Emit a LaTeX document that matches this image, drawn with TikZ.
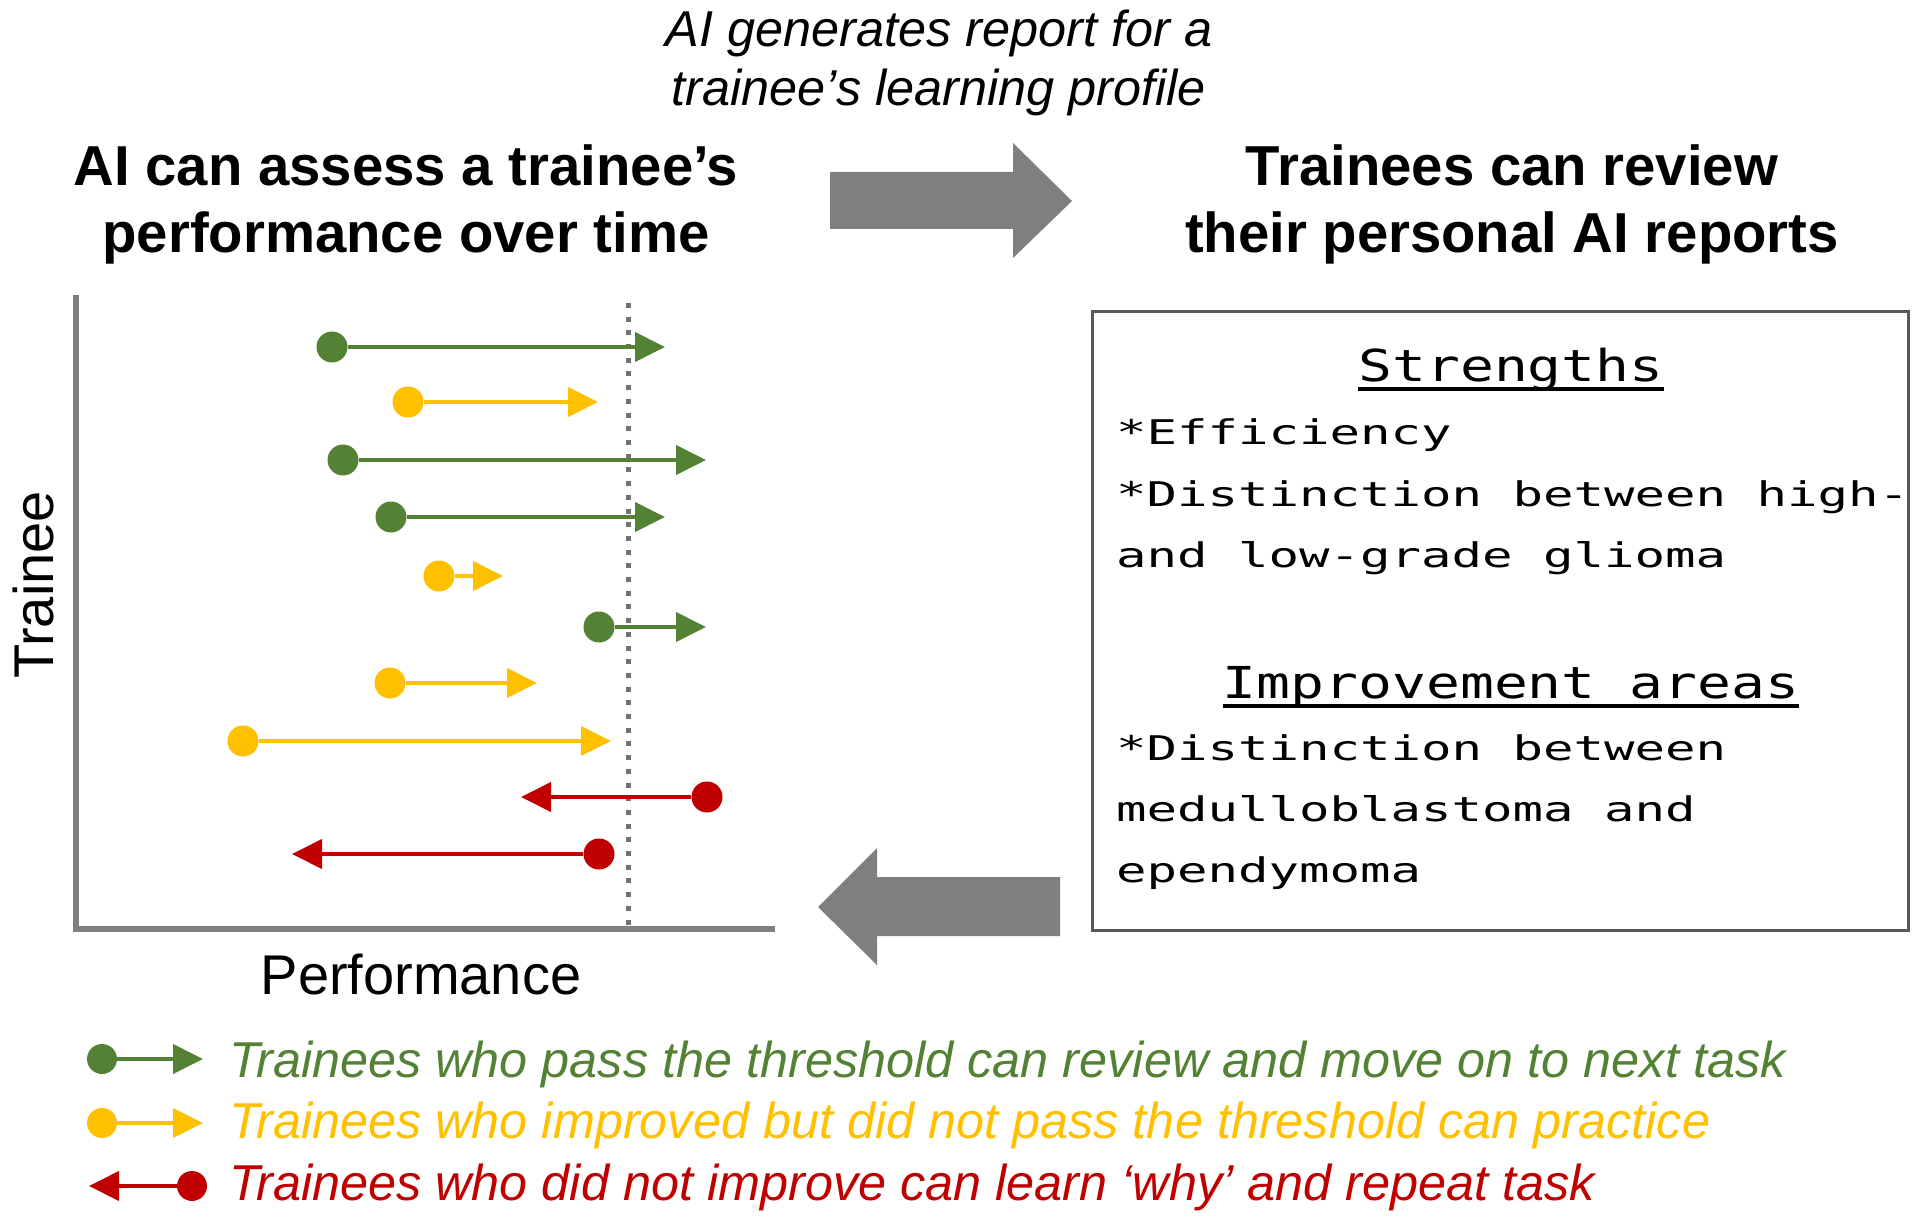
\documentclass[tikz,border=0pt]{standalone}
\usepackage{fontspec}
\setmainfont{Liberation Sans}
\newfontfamily\boxbody{DejaVu Sans Mono}[FakeStretch=1.49]
\newfontfamily\boxhead{DejaVu Sans Mono}[FakeStretch=1.28]
\usetikzlibrary{arrows.meta}
\definecolor{ggreen}{HTML}{548235}
\definecolor{gyellow}{HTML}{FFC000}
\definecolor{gred}{HTML}{C00000}
\definecolor{bgray}{HTML}{7F7F7F}
\definecolor{boxgray}{HTML}{595959}
\begin{document}
\begin{tikzpicture}[x=1pt,y=-1pt,
  every node/.style={inner sep=0pt},
  dotnode/.style={circle, fill=#1, inner sep=0pt, minimum size=31pt},
  trend/.style={draw=#1, line width=4pt, -{Triangle[length=30pt,width=29pt]}},
  titlefont/.style={font=\bfseries\fontsize{56.3}{67}\selectfont},
  capfont/.style={font=\itshape\fontsize{50.4}{60}\selectfont},
  axisfont/.style={font=\fontsize{56}{66}\selectfont},
  legfont/.style={font=\itshape\fontsize{50.4}{60}\selectfont},
  bodyline/.style={anchor=base west, font=\boxbody\fontsize{34}{61}\selectfont},
  headline/.style={anchor=base, font=\boxhead\fontsize{44}{61}\selectfont},
  bigarrow/.style={fill=bgray, draw=none}]
\useasboundingbox (0,0) rectangle (1920,1222);
\fill[white] (0,0) rectangle (1920,1222);

% caption over the arrow
\node[capfont, anchor=base] (cap1) at (939,47) {AI generates report for a};
\node[capfont, anchor=base] (cap2) at (939,106) {trainee’s learning profile};

% titles
\node[titlefont, anchor=base] (lt1) at (406,186) {AI can assess a trainee’s};
\node[titlefont, anchor=base] (lt2) at (406,253) {performance over time};
\node[titlefont, anchor=base] (rt1) at (1512,186) {Trainees can review};
\node[titlefont, anchor=base] (rt2) at (1512,253) {their personal AI reports};

% big arrows
\path[bigarrow] (830,172) -- (1013,172) -- (1013,143) -- (1072,201) -- (1013,258) -- (1013,229) -- (830,229) -- cycle;
\path[bigarrow] (1060,877) -- (877,877) -- (877,848) -- (818,907) -- (877,965) -- (877,936) -- (1060,936) -- cycle;

% axes
\draw[bgray, line width=5.5pt, line join=miter] (76,295) -- (76,929) -- (775,929);
\node[axisfont, rotate=90, anchor=base] (ylab) at (53,585) {Trainee};
\node[axisfont, anchor=base] (xlab) at (421,994) {Performance};

% threshold
\draw[bgray!90!black, line width=5pt, dash pattern=on 5pt off 8.7pt] (628,303) -- (628,925);

% trainee arrows
\node[dotnode=ggreen]  (c1)  at (332,347) {};  \coordinate (t1)  at (665,347);
\node[dotnode=gyellow] (c2)  at (408,402) {};  \coordinate (t2)  at (598,402);
\node[dotnode=ggreen]  (c3)  at (343,460) {};  \coordinate (t3)  at (706,460);
\node[dotnode=ggreen]  (c4)  at (391,517) {};  \coordinate (t4)  at (665,517);
\node[dotnode=gyellow] (c5)  at (439,576) {};  \coordinate (t5)  at (503,576);
\node[dotnode=ggreen]  (c6)  at (599,627) {};  \coordinate (t6)  at (706,627);
\node[dotnode=gyellow] (c7)  at (390,683) {};  \coordinate (t7)  at (537,683);
\node[dotnode=gyellow] (c8)  at (243,741) {};  \coordinate (t8)  at (611,741);
\node[dotnode=gred]    (c9)  at (707,797) {};  \coordinate (t9)  at (521,797);
\node[dotnode=gred]    (c10) at (599,854) {};  \coordinate (t10) at (292,854);
\draw[trend=ggreen]  (c1) -- (t1);
\draw[trend=gyellow] (c2) -- (t2);
\draw[trend=ggreen]  (c3) -- (t3);
\draw[trend=ggreen]  (c4) -- (t4);
\draw[trend=gyellow] (c5) -- (t5);
\draw[trend=ggreen]  (c6) -- (t6);
\draw[trend=gyellow] (c7) -- (t7);
\draw[trend=gyellow] (c8) -- (t8);
\draw[trend=gred]    (c9) -- (t9);
\draw[trend=gred]    (c10) -- (t10);

% report box
\node[draw=boxgray, line width=3pt, minimum width=816pt, minimum height=618pt] (report) at (1500,621) {};
\node[headline] (h1) at (1511,382) {Strengths};
\draw[line width=4pt] ([yshift=-7pt]h1.base west) -- ([yshift=-7pt]h1.base east);
\node[bodyline] (b1) at (1116,445) {*Efficiency};
\node[bodyline] (b2) at (1116,506) {*Distinction between high-};
\node[bodyline] (b3) at (1116,567) {and low-grade glioma};
\node[headline] (h2) at (1511,698) {Improvement areas};
\draw[line width=4pt] ([yshift=-8pt]h2.base west) -- ([yshift=-8pt]h2.base east);
\node[bodyline] (b4) at (1116,760) {*Distinction between};
\node[bodyline] (b5) at (1116,821) {medulloblastoma and};
\node[bodyline] (b6) at (1116,882) {ependymoma};

% legend
\node[dotnode=ggreen, minimum size=30pt]  (lc1) at (102,1059) {}; \coordinate (lt1tip) at (203,1059);
\node[dotnode=gyellow, minimum size=30pt] (lc2) at (102,1123) {}; \coordinate (lt2tip) at (203,1123);
\node[dotnode=gred, minimum size=30pt]    (lc3) at (192,1186) {}; \coordinate (lt3tip) at (89,1186);
\draw[trend=ggreen]  (lc1) -- (lt1tip);
\draw[trend=gyellow] (lc2) -- (lt2tip);
\draw[trend=gred]    (lc3) -- (lt3tip);
\node[legfont, text=ggreen, anchor=base west]  (l1) at (229,1077) {Trainees who pass the threshold can review and move on to next task};
\node[legfont, text=gyellow, anchor=base west] (l2) at (229,1138) {Trainees who improved but did not pass the threshold can practice};
\node[legfont, text=gred, anchor=base west]    (l3) at (229,1200) {Trainees who did not improve can learn ‘why’ and repeat task};
\end{tikzpicture}
\end{document}
